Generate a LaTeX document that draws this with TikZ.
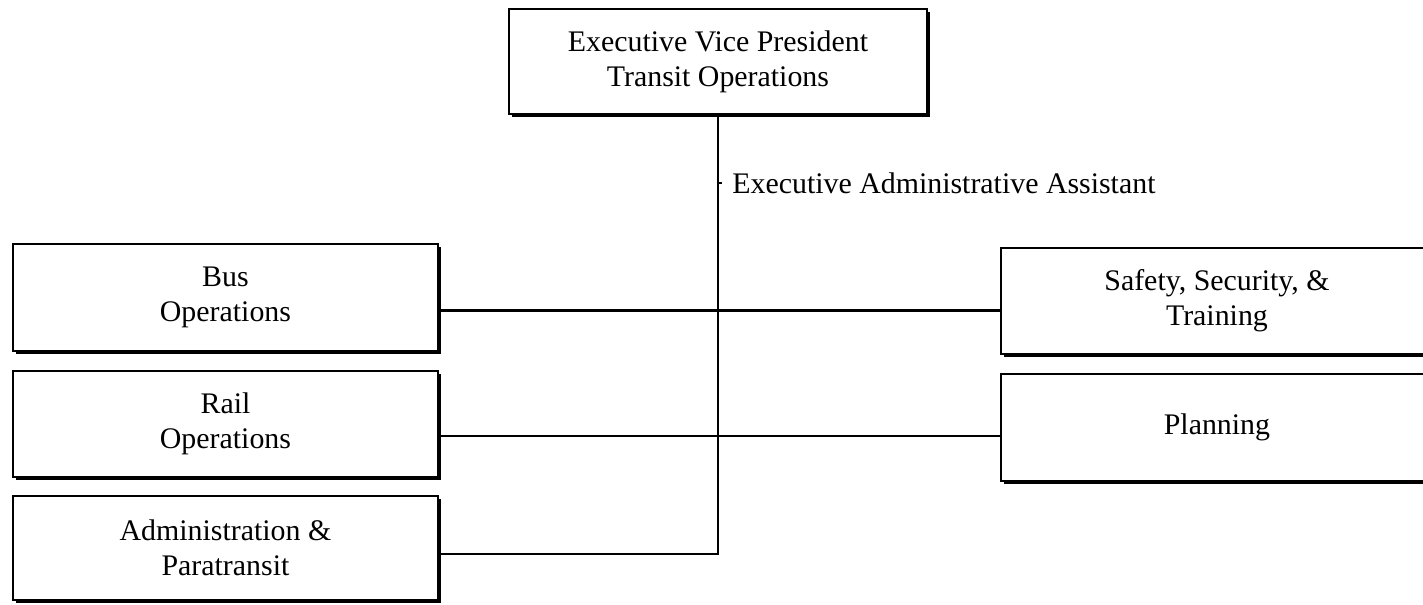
\documentclass[tikz,border=0pt]{standalone}
\usepackage{fontspec}
\setmainfont{Liberation Serif}
\usetikzlibrary{positioning,shadows,calc}

\begin{document}
\begin{tikzpicture}[font=\fontsize{17}{20}\selectfont, node distance=0.36cm,
    unit/.style={draw, line width=1.1pt, fill=white, align=center,
      minimum width=8.5cm, minimum height=2.12cm, inner sep=0pt,
      drop shadow={shadow xshift=0.07cm, shadow yshift=-0.07cm, fill=black, opacity=1}},
    link/.style={line width=1.2pt}]
    \useasboundingbox (0,0) rectangle (28.46,-12.1);
    \clip (0,0) rectangle (28.46,-12.1);

    % Head of the department
    \node[unit, minimum width=8.36cm, minimum height=2.1cm, anchor=north west]
      (EVP) at (10.16,-0.16) {Executive Vice President\\Transit Operations};

    % Units on the left
    \node[unit, minimum height=2.14cm, anchor=north west] (Bus) at (0.24,-4.86) {Bus\\Operations};
    \node[unit, below=of Bus] (Rail) {Rail\\Operations};
    \node[unit, minimum height=2.08cm, below=0.34cm of Rail] (Admin) {Administration \&\\Paratransit};

    % Units on the right (cut at the page edge)
    \node[unit, minimum width=8.64cm, anchor=north west] (Safety) at (20.0,-4.94) {Safety, Security, \&\\Training};
    \node[unit, minimum width=8.64cm, minimum height=2.14cm, below=of Safety] (Planning) {Planning};

    % Staff position beside the trunk line
    \node[anchor=west, inner xsep=0.2cm, inner ysep=0pt] (Assist) at (14.44,-3.66) {Executive Administrative Assistant};

    % Trunk line and branches
    \coordinate (busrow) at ($(Bus.east)+(0,-0.26)$);
    \coordinate (railrow) at ($(Rail.east)+(0,-0.24)$);
    \coordinate (adminrow) at ($(Admin.east)+(0,-0.12)$);
    \begin{scope}[on background layer/.try]
      \draw[link] (EVP.south) |- (adminrow);
      \draw[link] (Assist.west -| EVP.south) -- (Assist.west);
      \draw[link] (busrow) -- (busrow -| Safety.west);
      \draw[link] (railrow) -- (railrow -| Planning.west);
    \end{scope}
  \end{tikzpicture}
\end{document}
